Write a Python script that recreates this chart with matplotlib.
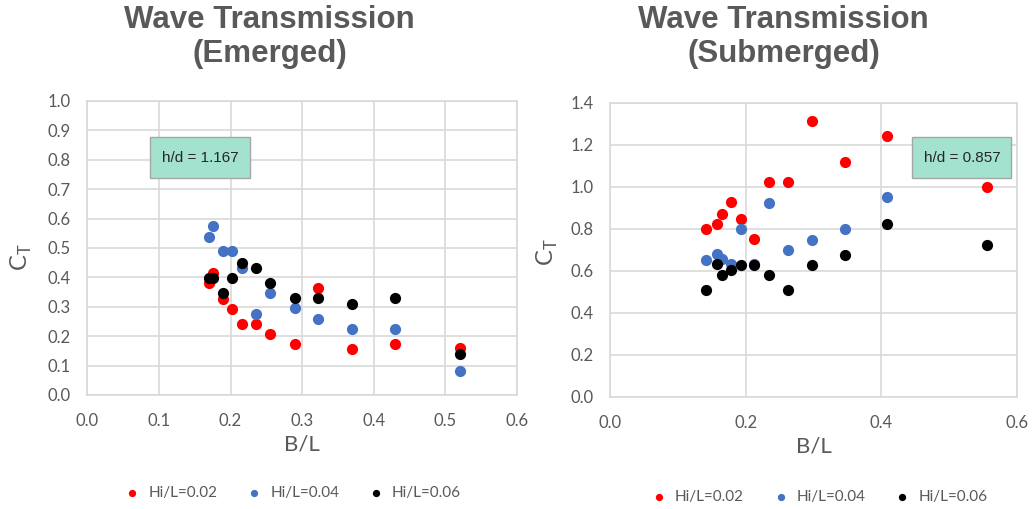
import numpy as np
import matplotlib
matplotlib.use("Agg")
import matplotlib.pyplot as plt
from matplotlib.patches import Rectangle
from matplotlib.ticker import FormatStrFormatter, MultipleLocator

# emerged (h/d = 1.167)
bl_em = [0.170, 0.176, 0.189, 0.2025, 0.2156, 0.2356, 0.255, 0.290, 0.322, 0.369, 0.429, 0.5205]
ct_em_002 = [0.380, 0.416, 0.326, 0.294, 0.242, 0.242, 0.208, 0.174, 0.364, 0.155, 0.174, 0.159]
ct_em_004 = [0.539, 0.575, 0.490, 0.490, 0.431, 0.275, 0.346, 0.295, 0.258, 0.224, 0.224, 0.080]
ct_em_006 = [0.397, 0.397, 0.346, 0.398, 0.450, 0.432, 0.380, 0.329, 0.329, 0.310, 0.329, 0.140]

# submerged (h/d = 0.857)
bl_sub = [0.1415, 0.1577, 0.165, 0.179, 0.1926, 0.2127, 0.2343, 0.2619, 0.298, 0.3468, 0.4087, 0.5556]
ct_sub_002 = [0.799, 0.822, 0.870, 0.927, 0.846, 0.749, 1.022, 1.022, 1.311, 1.119, 1.241, 0.997]
ct_sub_004 = [0.651, 0.680, 0.654, 0.632, 0.800, 0.630, 0.922, 0.700, 0.748, 0.797, 0.949, 1.120]
ct_sub_006 = [0.507, 0.632, 0.581, 0.603, 0.629, 0.629, 0.581, 0.507, 0.629, 0.676, 0.821, 0.724]

labels = ["Hi/L=0.02", "Hi/L=0.04", "Hi/L=0.06"]
colors = ["#ff0000", "#4472c4", "#000000"]

gray = "#595959"
tickfont = "Lato"

fig = plt.figure(figsize=(10.34, 5.09), dpi=100)

def setup(ax, ymax, xstep, ystep):
    ax.set_xlim(0, 0.6)
    ax.set_ylim(0, ymax)
    ax.xaxis.set_major_locator(MultipleLocator(xstep))
    ax.yaxis.set_major_locator(MultipleLocator(ystep))
    ax.xaxis.set_major_formatter(FormatStrFormatter("%.1f"))
    ax.yaxis.set_major_formatter(FormatStrFormatter("%.1f"))
    ax.grid(True, color="#d9d9d9", linewidth=1.2, zorder=0)
    ax.set_axisbelow(True)
    for s in ax.spines.values():
        s.set_color("#d9d9d9")
        s.set_linewidth(1.2)
    ax.tick_params(length=0, labelcolor=gray, labelsize=12)
    ax.tick_params(axis="x", pad=13)
    ax.tick_params(axis="y", pad=12)
    for t in ax.get_xticklabels() + ax.get_yticklabels():
        t.set_fontfamily(tickfont)
    ax.set_xlabel("B/L", fontsize=16, color=gray, fontfamily=tickfont, labelpad=4)

def note(ax, x, y, w, h, txt):
    ax.add_patch(Rectangle((x, y), w, h, facecolor="#a2e2cf", edgecolor="#a6a6a6",
                           linewidth=1, zorder=10, clip_on=False))
    ax.text(x + w / 2, y + h / 2, txt, ha="center", va="center", fontsize=11,
            color="#262626", fontfamily="Liberation Sans", zorder=11)

# left chart
ax1 = fig.add_axes([0.0844, 0.2240, 0.4156, 0.5776])
setup(ax1, 1.0, 0.1, 0.1)
for ys, c, lab in zip([ct_em_002, ct_em_004, ct_em_006], colors, labels):
    ax1.scatter(bl_em, ys, s=65, color=c, label=lab, zorder=3, linewidths=0)
note(ax1, 0.0876, 0.738, 0.140, 0.139, "h/d = 1.167")
fig.text(0.021, 0.495, "C$_\\mathregular{T}$", rotation=90, ha="center", va="center",
         fontsize=17, color=gray, fontfamily=tickfont)
ax1.legend(loc="center", bbox_to_anchor=(0.2795, 0.031), bbox_transform=fig.transFigure,
           ncol=3, frameon=False, markerscale=0.65, handletextpad=0.05,
           columnspacing=1.4, labelcolor=gray, prop={"family": tickfont, "size": 11})

# right chart
ax2 = fig.add_axes([0.590, 0.2206, 0.3936, 0.5776])
setup(ax2, 1.4, 0.2, 0.2)
for ys, c, lab in zip([ct_sub_002, ct_sub_004, ct_sub_006], colors, labels):
    ax2.scatter(bl_sub, ys, s=65, color=c, label=lab, zorder=3, linewidths=0)
note(ax2, 0.4456, 1.04, 0.146, 0.195, "h/d = 0.857")
fig.text(0.529, 0.505, "C$_\\mathregular{T}$", rotation=90, ha="center", va="center",
         fontsize=17, color=gray, fontfamily=tickfont)
ax2.legend(loc="center", bbox_to_anchor=(0.7887, 0.024), bbox_transform=fig.transFigure,
           ncol=3, frameon=False, markerscale=0.65, handletextpad=0.05,
           columnspacing=1.4, labelcolor=gray, prop={"family": tickfont, "size": 11})

# titles
fig.text(0.261, 0.990, "Wave Transmission\n(Emerged)", ha="center", va="top",
         fontsize=22.5, fontweight="bold", color=gray, fontfamily="Liberation Sans",
         linespacing=1.15)
fig.text(0.7577, 0.990, "Wave Transmission\n(Submerged)", ha="center", va="top",
         fontsize=22.5, fontweight="bold", color=gray, fontfamily="Liberation Sans",
         linespacing=1.15)

fig.savefig("out.png", dpi=100)
